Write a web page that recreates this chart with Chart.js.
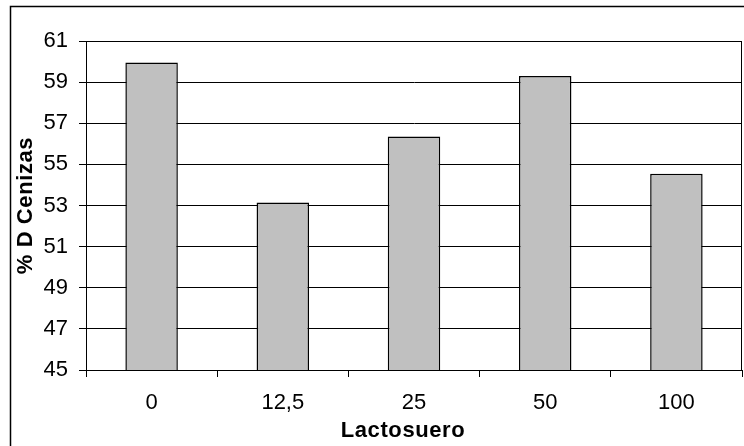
<!DOCTYPE html>
<html>
<head>
<meta charset="utf-8">
<script src="https://cdn.jsdelivr.net/npm/chart.js@4"></script>
<style>
  html, body { margin: 0; padding: 0; background: #fff; }
  #wrap { width: 744px; height: 446px; position: relative; }
</style>
</head>
<body>
<div id="wrap"><canvas id="c" width="744" height="446"></canvas></div>
<script>
// Ash digestibility by whey level
const categories = ['0', '12,5', '25', '50', '100'];
const cenizas = [59.95, 53.15, 56.35, 59.3, 54.55];
const yTicks = [45, 47, 49, 51, 53, 55, 57, 59, 61];
const xTitle = 'Lactosuero';
const yTitle = '% D Cenizas';

const FONT = "'Liberation Sans', Arial, sans-serif";

// outer frame, plot-area border and the two axis titles
const frame = {
  id: 'frame',
  beforeDraw(chart) {
    const ctx = chart.ctx;
    ctx.save();
    ctx.fillStyle = '#fff';
    ctx.fillRect(0, 0, chart.width, chart.height);
    ctx.strokeStyle = '#000';
    ctx.lineWidth = 1.5;
    ctx.beginPath();
    ctx.moveTo(10.5, chart.height + 2);
    ctx.lineTo(10.5, 6.5);
    ctx.lineTo(chart.width + 2, 6.5);
    ctx.stroke();
    ctx.restore();
  },
  afterDatasetsDraw(chart) {
    const { ctx, chartArea: a } = chart;
    ctx.save();
    ctx.strokeStyle = '#000';
    ctx.lineWidth = 1;
    ctx.strokeRect(Math.round(a.left) + 0.5, Math.round(a.top) + 0.5,
                   Math.round(a.right - a.left) - 1, Math.round(a.bottom - a.top));
    ctx.restore();
  },
  afterDraw(chart) {
    const { ctx, chartArea: a } = chart;
    ctx.save();
    ctx.fillStyle = '#000';
    ctx.font = 'bold 22px ' + FONT;
    ctx.letterSpacing = '0.6px';
    ctx.textAlign = 'center';
    ctx.textBaseline = 'middle';
    ctx.fillText(xTitle, 403, 431);
    ctx.translate(26, (a.top + a.bottom) / 2);
    ctx.rotate(-Math.PI / 2);
    ctx.fillText(yTitle, 0, 0);
    ctx.restore();
  }
};

new Chart(document.getElementById('c'), {
  type: 'bar',
  data: {
    labels: categories,
    datasets: [{
      data: cenizas,
      backgroundColor: '#C0C0C0',
      borderColor: '#000',
      borderWidth: 1.5,
      categoryPercentage: 1,
      barPercentage: 0.4
    }]
  },
  options: {
    responsive: false,
    animation: false,
    devicePixelRatio: 1,
    layout: { padding: { left: 10, top: 41, right: 2, bottom: 0 } },
    plugins: { legend: { display: false }, tooltip: { enabled: false } },
    scales: {
      x: {
        offset: true,
        grid: { offset: true, drawOnChartArea: false, drawTicks: true, tickLength: 7, color: '#000', lineWidth: 1 },
        border: { display: true, color: '#000', width: 1 },
        ticks: { color: '#000', padding: 13, font: { family: FONT, size: 22 } },
        afterFit(s) { s.height = 76; }
      },
      y: {
        min: 45, max: 61,
        afterBuildTicks(s) { s.ticks = yTicks.map(v => ({ value: v })); },
        grid: { color: '#000', lineWidth: 1, tickLength: 7 },
        border: { display: true, color: '#000', width: 1 },
        ticks: { color: '#000', padding: 11, font: { family: FONT, size: 22 } },
        afterFit(s) { s.width = 76; }
      }
    }
  },
  plugins: [frame]
});
</script>
</body>
</html>
